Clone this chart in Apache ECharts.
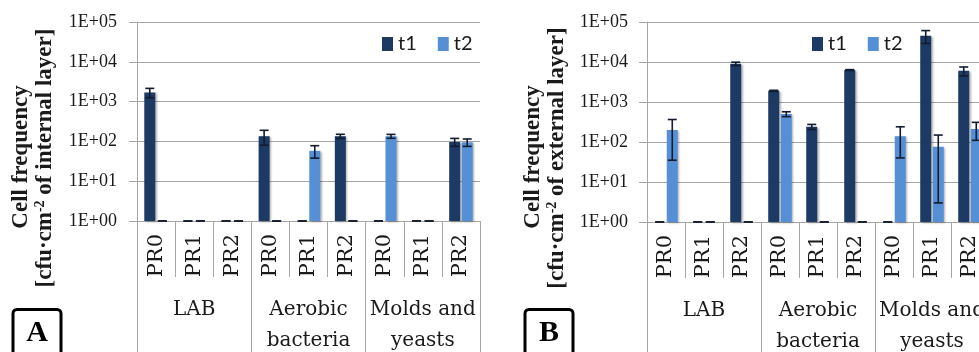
<!DOCTYPE html>
<html>
<head>
<meta charset="utf-8">
<script src="https://cdn.jsdelivr.net/npm/echarts@6/dist/echarts.min.js"></script>
<style>
  html, body { margin: 0; padding: 0; background: #fff; }
  #chart { width: 979px; height: 352px; }
</style>
</head>
<body>
<div id="chart"></div>
<script>
// Sample categories (three sampling points per microbial group)
const samples = ['PR0', 'PR1', 'PR2', 'PR0', 'PR1', 'PR2', 'PR0', 'PR1', 'PR2'];
const groups = ['LAB', 'Aerobic\nbacteria', 'Molds and\nyeasts'];
const seriesNames = ['t1', 't2'];
const yTickLabels = ['1E+00', '1E+01', '1E+02', '1E+03', '1E+04', '1E+05'];

// Panel A: internal layer (cfu/cm2); 1 = not detected
const internalT1 = [1700, 1, 1, 135, 1, 135, 1, 1, 97];
const internalT1Err = [450, 0, 0, 55, 0, 16, 0, 0, 22];
const internalT2 = [1, 1, 1, 1, 58, 1, 135, 1, 95];
const internalT2Err = [0, 0, 0, 0, 20, 0, 15, 0, 20];

// Panel B: external layer (cfu/cm2)
const externalT1 = [1, 1, 9000, 1900, 240, 6300, 1, 45000, 6000];
const externalT1Err = [0, 0, 900, 60, 35, 150, 0, 16000, 1500];
const externalT2 = [200, 1, 1, 500, 1, 1, 140, 76, 210];
const externalT2Err = [165, 0, 0, 70, 0, 0, 100, 73, 100];

const COLOR_T1 = '#1c3a63';
const COLOR_T2 = '#5590d6';
const GRID_COLOR = '#a6a6a6';
const BAR_W = 11;
const BAR_GAP = 0.14;

const chart = echarts.init(document.getElementById('chart'), null, { renderer: 'canvas' });

function yAxisFor(gridIndex, margin) {
  return {
    type: 'log', logBase: 10, min: 1, max: 100000, splitNumber: 5,
    gridIndex: gridIndex,
    axisLine: { show: true, lineStyle: { color: GRID_COLOR, width: 1 } },
    axisTick: { show: true, length: 8, lineStyle: { color: GRID_COLOR } },
    splitLine: { show: true, lineStyle: { color: GRID_COLOR, width: 1 } },
    axisLabel: {
      margin: margin,
      fontFamily: 'Liberation Serif', fontSize: 18, color: '#1a1a1a',
      formatter: v => yTickLabels[Math.round(Math.log10(v))]
    }
  };
}

function sampleAxis(gridIndex) {
  return {
    type: 'category', gridIndex: gridIndex, data: samples, position: 'bottom',
    axisLine: { show: true, lineStyle: { color: GRID_COLOR } },
    axisTick: { show: true, length: 56, interval: 0, lineStyle: { color: GRID_COLOR } },
    axisLabel: {
      interval: 0, rotate: 90, margin: 13,
      fontFamily: 'DejaVu Serif', fontSize: 21, color: '#1a1a1a'
    }
  };
}

function groupAxis(gridIndex) {
  return {
    type: 'category', gridIndex: gridIndex, data: groups, position: 'bottom',
    axisLine: { show: false },
    axisTick: { show: true, length: 140, interval: 0, lineStyle: { color: GRID_COLOR } },
    axisLabel: {
      interval: 0, margin: 73, lineHeight: 31,
      fontFamily: 'DejaVu Serif', fontSize: 20, color: '#1a1a1a'
    }
  };
}

function barSeries(name, data, color, xi, yi) {
  return {
    type: 'bar', name: name, data: data,
    xAxisIndex: xi, yAxisIndex: yi,
    barWidth: BAR_W, barGap: (BAR_GAP * 100) + '%',
    itemStyle: {
      color: color,
      shadowColor: 'rgba(0,0,0,0.3)', shadowBlur: 2, shadowOffsetX: 1.5, shadowOffsetY: 1
    },
    emphasis: { disabled: true },
    z: 2
  };
}

// Error bars drawn on top of the grouped bars; side = -1 for t1, +1 for t2
function errorSeries(values, errors, side, xi, yi) {
  const data = values.map((v, i) => [i, v, errors[i]]);
  return {
    type: 'custom', name: 'err', xAxisIndex: xi, yAxisIndex: yi,
    data: data, z: 5, silent: true,
    encode: { x: 0, y: 1 },
    renderItem: function (params, api) {
      const i = api.value(0), v = api.value(1), e = api.value(2);
      const off = side * (BAR_W + BAR_W * BAR_GAP) / 2;
      const hi = api.coord([i, v + e]);
      const lo = api.coord([i, Math.max(1, v - e)]);
      const x = hi[0] + off;
      const cap = 4.5;
      const style = { stroke: '#121c2e', lineWidth: 1.6 };
      return {
        type: 'group',
        children: [
          { type: 'line', shape: { x1: x, y1: hi[1], x2: x, y2: lo[1] }, style: style },
          { type: 'line', shape: { x1: x - cap, y1: hi[1], x2: x + cap, y2: hi[1] }, style: style },
          { type: 'line', shape: { x1: x - cap, y1: lo[1], x2: x + cap, y2: lo[1] }, style: style }
        ]
      };
    }
  };
}

function legendAt(left) {
  return {
    data: seriesNames, left: left, top: 29, icon: 'rect',
    itemWidth: 11, itemHeight: 14, itemGap: 21,
    textStyle: { fontFamily: 'Lato', fontSize: 20, color: '#1a1a1a' },
    selectedMode: false
  };
}

function titleText(x, y, rich) {
  return {
    type: 'text', x: x, y: y, rotation: Math.PI / 2, silent: true,
    style: {
      text: rich,
      align: 'center', verticalAlign: 'middle',
      font: 'bold 23px "Liberation Serif"', fill: '#1a1a1a',
      rich: {
        sup: { font: 'bold 14px "Liberation Serif"', fill: '#1a1a1a', verticalAlign: 'top', padding: [0, 0, 8, 0] }
      }
    }
  };
}

function panelBox(x, letter) {
  return [
    { type: 'rect', silent: true, shape: { x: x, y: 309.5, width: 48, height: 60, r: 4 },
      style: { fill: 'none', stroke: '#000', lineWidth: 3 } },
    { type: 'text', silent: true, x: x + 24, y: 333,
      style: { text: letter, align: 'center', verticalAlign: 'middle',
               font: 'bold 30px "Liberation Serif"', fill: '#000' } }
  ];
}

const option = {
  animation: false,
  backgroundColor: '#ffffff',
  grid: [
    { left: 137, top: 22, width: 343, height: 199, outerBoundsMode: 'none' },
    { left: 647, top: 22, width: 342, height: 200, outerBoundsMode: 'none' }
  ],
  legend: [legendAt(377), legendAt(807)],
  xAxis: [sampleAxis(0), groupAxis(0), sampleAxis(1), groupAxis(1)],
  yAxis: [yAxisFor(0, 20), yAxisFor(1, 19)],
  series: [
    barSeries('t1', internalT1, COLOR_T1, 0, 0),
    barSeries('t2', internalT2, COLOR_T2, 0, 0),
    errorSeries(internalT1, internalT1Err, -1, 0, 0),
    errorSeries(internalT2, internalT2Err, 1, 0, 0),
    barSeries('t1', externalT1, COLOR_T1, 2, 1),
    barSeries('t2', externalT2, COLOR_T2, 2, 1),
    errorSeries(externalT1, externalT1Err, -1, 2, 1),
    errorSeries(externalT2, externalT2Err, 1, 2, 1)
  ],
  graphic: [
    titleText(21, 157, 'Cell frequency'),
    titleText(45, 158, '[cfu·cm{sup|-2} of internal layer]'),
    titleText(533, 157, 'Cell frequency'),
    titleText(557, 158, '[cfu·cm{sup|-2} of external layer]'),
    ...panelBox(13, 'A'),
    ...panelBox(525, 'B')
  ]
};

chart.setOption(option);
</script>
</body>
</html>
